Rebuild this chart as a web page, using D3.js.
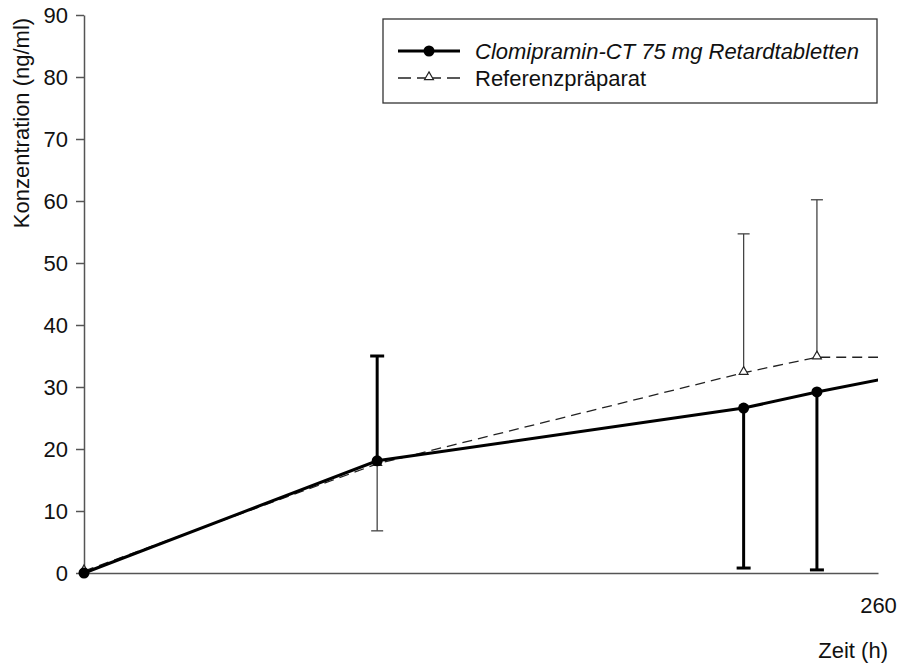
<!DOCTYPE html>
<html>
<head>
<meta charset="utf-8">
<script src="https://cdn.jsdelivr.net/npm/d3@7"></script>
<style>
  html, body { margin: 0; padding: 0; background: #fff; }
  svg { display: block; font-family: "Liberation Sans", Arial, sans-serif; }
</style>
</head>
<body>
<svg id="chart" width="897" height="666"></svg>
<script>
// Sampling times (h)
const times = [0, 96, 216, 240, 264];
// Mean plasma concentrations (ng/ml)
const testMean = [0, 18.1, 26.6, 29.2, 31.5];
const refMean = [0.3, 17.6, 32.3, 34.8, 34.8];
// Error bars: test product drawn one-sided, reference drawn the other way
const testErrTimes = [96, 216, 240];
const testErrEnd = [35.0, 0.8, 0.5];
const refErrTimes = [96, 216, 240];
const refErrEnd = [6.8, 54.7, 60.2];
// Axis labels
const yTicks = [0, 10, 20, 30, 40, 50, 60, 70, 80, 90];
const xTicks = [260];
const seriesNames = ["Clomipramin-CT 75 mg Retardtabletten", "Referenzpräparat"];

const svg = d3.select("#chart");
const x = d3.scaleLinear().domain([0, 260]).range([84, 878]);
const y = d3.scaleLinear().domain([0, 90]).range([573, 15]);
const axisColor = "#555";
const fontSize = 22;

// clip the curves at the right end of the time axis
svg.append("defs").append("clipPath").attr("id", "plotClip")
  .append("rect").attr("x", 0).attr("y", 0).attr("width", x(260)).attr("height", 666);

// y axis
const yAxis = svg.append("g").attr("transform", `translate(${x(0)},0)`)
  .call(d3.axisLeft(y).tickValues(yTicks).tickSize(8).tickPadding(8).tickSizeOuter(0));
yAxis.select(".domain").attr("stroke", axisColor).attr("stroke-width", 1.5);
yAxis.selectAll(".tick line").attr("stroke", axisColor).attr("stroke-width", 1.5);
yAxis.selectAll(".tick text").attr("fill", "#111").style("font-size", fontSize + "px")
  .style("font-family", "Liberation Sans, Arial, sans-serif");

// x axis
const xAxis = svg.append("g").attr("transform", `translate(0,${y(0)})`)
  .call(d3.axisBottom(x).tickValues(xTicks).tickSize(0).tickPadding(24).tickSizeOuter(0));
xAxis.select(".domain").attr("stroke", axisColor).attr("stroke-width", 1.5);
xAxis.selectAll(".tick text").attr("fill", "#111").style("font-size", fontSize + "px")
  .style("font-family", "Liberation Sans, Arial, sans-serif");

// axis titles
svg.append("text").attr("transform", `translate(21,${(18 + 228) / 2}) rotate(-90)`)
  .attr("text-anchor", "middle").attr("dominant-baseline", "central")
  .style("font-size", fontSize + "px").attr("fill", "#111").text("Konzentration (ng/ml)");
svg.append("text").attr("x", 888).attr("y", 650).attr("text-anchor", "end")
  .attr("dominant-baseline", "central")
  .style("font-size", fontSize + "px").attr("fill", "#111").text("Zeit (h)");

// error bars
function errorBars(ts, ms, ends, opts) {
  const g = svg.append("g");
  ts.forEach((t, i) => {
    const m = ms[times.indexOf(t)];
    g.append("line").attr("x1", x(t)).attr("x2", x(t)).attr("y1", y(m)).attr("y2", y(ends[i]))
      .attr("stroke", opts.color).attr("stroke-width", opts.width);
    g.append("line").attr("x1", x(t) - opts.cap).attr("x2", x(t) + opts.cap)
      .attr("y1", y(ends[i])).attr("y2", y(ends[i]))
      .attr("stroke", opts.color).attr("stroke-width", opts.width);
  });
}
errorBars(refErrTimes, refMean, refErrEnd, { color: "#444", width: 1.3, cap: 6 });
errorBars(testErrTimes, testMean, testErrEnd, { color: "#000", width: 3, cap: 7 });

const line = d3.line().x(d => x(d[0])).y(d => y(d[1]));
const plot = svg.append("g").attr("clip-path", "url(#plotClip)");

// reference curve (dashed)
plot.append("path").datum(times.map((t, i) => [t, refMean[i]]))
  .attr("d", line).attr("fill", "none").attr("stroke", "#222")
  .attr("stroke-width", 1.3).attr("stroke-dasharray", "10,6");
// test curve (solid)
plot.append("path").datum(times.map((t, i) => [t, testMean[i]]))
  .attr("d", line).attr("fill", "none").attr("stroke", "#000").attr("stroke-width", 3);

const tri = d3.symbol().type(d3.symbolTriangle).size(34);
const visible = times.map((t, i) => i).filter(i => times[i] <= 260);

// markers
svg.append("g").selectAll("path").data(visible).join("path")
  .attr("d", tri).attr("transform", i => `translate(${x(times[i])},${y(refMean[i]) - 1})`)
  .attr("fill", "#fff").attr("stroke", "#222").attr("stroke-width", 1.2);
svg.append("g").selectAll("circle").data(visible).join("circle")
  .attr("cx", i => x(times[i])).attr("cy", i => y(testMean[i])).attr("r", 5.5).attr("fill", "#000");

// legend
const lg = svg.append("g");
lg.append("rect").attr("x", 383).attr("y", 19).attr("width", 494).attr("height", 84)
  .attr("fill", "#fff").attr("stroke", "#333").attr("stroke-width", 1.3);
lg.append("line").attr("x1", 398).attr("x2", 460).attr("y1", 51).attr("y2", 51)
  .attr("stroke", "#000").attr("stroke-width", 3);
lg.append("circle").attr("cx", 429).attr("cy", 51).attr("r", 5.5).attr("fill", "#000");
lg.append("line").attr("x1", 398).attr("x2", 460).attr("y1", 78).attr("y2", 78)
  .attr("stroke", "#222").attr("stroke-width", 1.3).attr("stroke-dasharray", "13,6,24,6,13");
lg.append("path").attr("d", tri).attr("transform", "translate(429,77)")
  .attr("fill", "#fff").attr("stroke", "#222").attr("stroke-width", 1.2);
lg.append("text").attr("x", 475).attr("y", 51).attr("dominant-baseline", "central")
  .style("font-size", fontSize + "px").style("font-style", "italic").attr("fill", "#111")
  .text(seriesNames[0]);
lg.append("text").attr("x", 475).attr("y", 78).attr("dominant-baseline", "central")
  .style("font-size", fontSize + "px").attr("fill", "#111").text(seriesNames[1]);
</script>
</body>
</html>
